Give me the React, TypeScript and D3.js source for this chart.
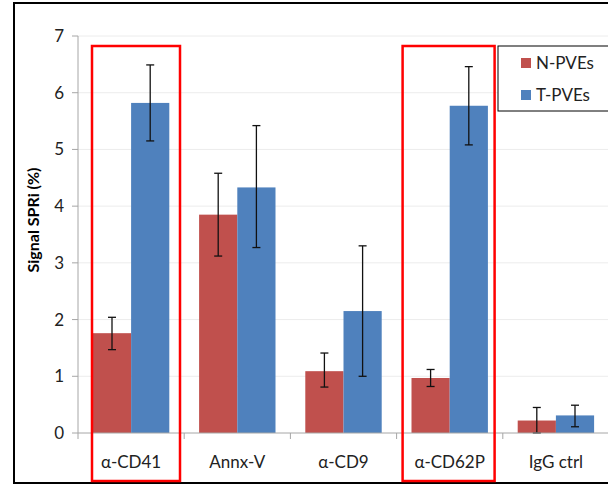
import React from 'react';
import * as d3 from 'd3';

const categories = ['α-CD41', 'Annx-V', 'α-CD9', 'α-CD62P', 'IgG ctrl'];
const seriesNames = ['N-PVEs', 'T-PVEs'];
const seriesColors = ['#C0504D', '#4F81BD'];
const nValues = [1.76, 3.85, 1.09, 0.97, 0.22];
const nErrLow = [1.47, 3.12, 0.81, 0.82, 0.0];
const nErrHigh = [2.04, 4.58, 1.41, 1.12, 0.45];
const tValues = [5.82, 4.33, 2.15, 5.77, 0.31];
const tErrLow = [5.15, 3.27, 1.0, 5.08, 0.11];
const tErrHigh = [6.49, 5.42, 3.3, 6.46, 0.49];
const yTicks = [0, 1, 2, 3, 4, 5, 6, 7];
// highlight boxes: category, left offset and width inside the band
const highlighted: [string, number, number][] = [['α-CD41', 14, 88], ['α-CD62P', 6, 92]];

const W = 608;
const H = 486;
const font = 'Lato, "Open Sans", sans-serif';

export default function App() {
  const plot = { left: 78, right: 609, top: 36, bottom: 433 };

  const x = d3.scaleBand<string>().domain(categories).range([plot.left, plot.right]).paddingInner(0).paddingOuter(0);
  const inner = d3.scaleBand<string>().domain(seriesNames).range([0, x.bandwidth()]).paddingInner(0).paddingOuter(0.39);
  const y = d3.scaleLinear().domain([0, 7]).range([plot.bottom, plot.top]);

  const series = [
    { name: seriesNames[0], color: seriesColors[0], values: nValues, lo: nErrLow, hi: nErrHigh },
    { name: seriesNames[1], color: seriesColors[1], values: tValues, lo: tErrLow, hi: tErrHigh },
  ];

  const tickEdges = d3.range(categories.length + 1).map(i => plot.left + i * x.step());

  return (
    <svg width={W} height={H} style={{ position: 'absolute', left: 0, top: 0, background: '#fff' }}>
      {/* outer frame */}
      <rect x={14} y={3} width={620} height={480} fill="none" stroke="#000" strokeWidth={2} />

      {/* gridlines */}
      {yTicks.filter(t => t > 0).map(t => (
        <line key={t} x1={plot.left} x2={plot.right} y1={y(t)} y2={y(t)} stroke="#ececec" strokeWidth={1} />
      ))}

      {/* bars */}
      {series.map(s =>
        categories.map((c, i) => {
          const bx = (x(c) ?? 0) + (inner(s.name) ?? 0);
          return (
            <rect key={s.name + c} x={bx} y={y(s.values[i])} width={inner.bandwidth()}
              height={y(0) - y(s.values[i])} fill={s.color} />
          );
        })
      )}

      {/* error bars */}
      {series.map(s =>
        categories.map((c, i) => {
          const cx = (x(c) ?? 0) + (inner(s.name) ?? 0) + inner.bandwidth() / 2;
          const y1 = y(s.hi[i]);
          const y2 = y(s.lo[i]);
          return (
            <g key={'e' + s.name + c} stroke="#111" strokeWidth={1.3}>
              <line x1={cx} x2={cx} y1={y1} y2={y2} />
              <line x1={cx - 4} x2={cx + 4} y1={y1} y2={y1} />
              <line x1={cx - 4} x2={cx + 4} y1={y2} y2={y2} />
            </g>
          );
        })
      )}

      {/* y axis */}
      <line x1={plot.left} x2={plot.left} y1={plot.top} y2={plot.bottom} stroke="#a6a6a6" />
      {yTicks.map(t => (
        <g key={'yt' + t}>
          <line x1={plot.left - 6} x2={plot.left} y1={y(t)} y2={y(t)} stroke="#a6a6a6" />
          <text x={plot.left - 14} y={y(t)} dy="0.35em" textAnchor="end" fontFamily={font} fontSize={17} fill="#222">{t}</text>
        </g>
      ))}

      {/* x axis */}
      <line x1={plot.left} x2={plot.right} y1={plot.bottom} y2={plot.bottom} stroke="#a6a6a6" />
      {tickEdges.map((tx, i) => (
        <line key={'xt' + i} x1={tx} x2={tx} y1={plot.bottom} y2={plot.bottom + 6} stroke="#a6a6a6" />
      ))}
      {categories.map(c => (
        <text key={'xl' + c} x={(x(c) ?? 0) + x.bandwidth() / 2} y={468} textAnchor="middle" fontFamily={font} fontSize={17} fill="#222">{c}</text>
      ))}

      {/* y label */}
      <text transform={`translate(39, 220) rotate(-90)`} textAnchor="middle"
        fontFamily={font} fontSize={16} fontWeight="bold" fill="#000">Signal SPRi (%)</text>

      {/* highlight boxes */}
      {highlighted.map(([c, off, w]) => {
        const bx = x(c) ?? 0;
        return (
          <rect key={'h' + c} x={bx + off} y={46} width={w} height={435} fill="none" stroke="#ff0000" strokeWidth={2.5} />
        );
      })}

      {/* legend */}
      <rect x={498} y={46} width={120} height={65} fill="#fff" stroke="#000" strokeWidth={1} />
      {series.map((s, i) => (
        <g key={'lg' + s.name} transform={`translate(521, ${58 + i * 32})`}>
          <rect x={0} y={0} width={10} height={10} fill={s.color} />
          <text x={15} y={5} dy="0.36em" fontFamily={font} fontSize={17} fill="#222">{s.name}</text>
        </g>
      ))}
    </svg>
  );
}
